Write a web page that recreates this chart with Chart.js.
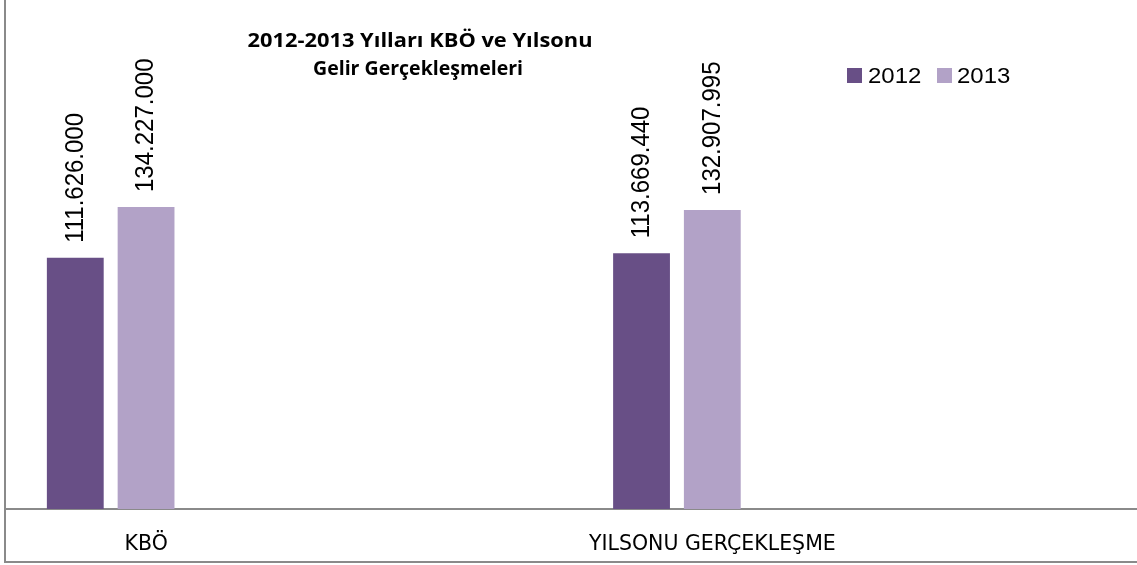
<!DOCTYPE html>
<html>
<head>
<meta charset="utf-8">
<script src="https://cdn.jsdelivr.net/npm/chart.js@4.4.1/dist/chart.umd.min.js"></script>
<style>
html,body{margin:0;padding:0;background:#fff;}
#wrap{width:1137px;height:565px;position:relative;}
</style>
</head>
<body>
<div id="wrap"><canvas id="c" width="1137" height="565"></canvas></div>
<script>
// ---- data ----
const categories = ["KBÖ", "YILSONU GERÇEKLEŞME"];
const seriesNames = ["2012", "2013"];
const values2012 = [111626000, 113669440];
const values2013 = [134227000, 132907995];
const titleLines = ["2012-2013 Yılları KBÖ ve Yılsonu", "Gelir Gerçekleşmeleri"];
const yMin = 0;
const yMax = 200000000;
const seriesColors = ["#684F86", "#B2A2C7"];

function fmt(v) {
  return String(v).replace(/\B(?=(\d{3})+(?!\d))/g, ".");
}

const seriesValues = [values2012, values2013];
const datasets = seriesNames.map((n, i) => ({
  label: n,
  data: seriesValues[i],
  backgroundColor: seriesColors[i],
  borderWidth: 0,
  showLabel: true,
  barPercentage: 57 / 71,
  categoryPercentage: 0.875
}));
// empty placeholder series (the original chart reserves slots for them)
for (let k = 0; k < 5; k++) {
  datasets.push({
    label: "",
    data: categories.map(() => null),
    backgroundColor: "rgba(0,0,0,0)",
    borderWidth: 0,
    showLabel: false,
    barPercentage: 57 / 71,
    categoryPercentage: 0.875
  });
}

const decor = {
  id: "decor",
  beforeDraw(chart) {
    const ctx = chart.ctx;
    ctx.save();
    ctx.fillStyle = "#fff";
    ctx.fillRect(0, 0, chart.width, chart.height);
    ctx.restore();
  },
  afterDraw(chart) {
    const ctx = chart.ctx;
    ctx.save();
    // frame lines
    ctx.strokeStyle = "#8a8a8a";
    ctx.lineWidth = 2;
    ctx.beginPath(); ctx.moveTo(5, 0); ctx.lineTo(5, 563); ctx.stroke();
    ctx.beginPath(); ctx.moveTo(4, 562); ctx.lineTo(chart.width, 562); ctx.stroke();

    // data labels (rotated)
    chart.data.datasets.forEach((ds, i) => {
      if (!ds.showLabel) return;
      const meta = chart.getDatasetMeta(i);
      meta.data.forEach((el, j) => {
        const v = ds.data[j];
        if (v == null) return;
        ctx.save();
        ctx.translate(el.x, el.y - 15);
        ctx.rotate(-Math.PI / 2);
        ctx.scale(1, 1.09);
        ctx.font = '24px "Liberation Sans"';
        ctx.fillStyle = "#000";
        ctx.textAlign = "left";
        ctx.textBaseline = "middle";
        ctx.fillText(fmt(v), 0, 0);
        ctx.restore();
      });
    });

    // title
    ctx.font = 'bold 18.8px "Open Sans"';
    ctx.fillStyle = "#000";
    ctx.textBaseline = "alphabetic";
    ctx.textAlign = "center";
    const centers = [420, 418];
    const widths = [345, 210];
    const bases = [47, 75];
    titleLines.forEach((t, i) => {
      const k = widths[i] / ctx.measureText(t).width;
      ctx.save();
      ctx.translate(centers[i], bases[i]);
      ctx.scale(k, 1);
      ctx.fillText(t, 0, 0);
      ctx.restore();
    });

    // legend
    const sq = [847, 937];
    const tx = [868, 957];
    ctx.textAlign = "left";
    ctx.font = '22px "Liberation Sans"';
    seriesNames.forEach((n, i) => {
      ctx.fillStyle = chart.data.datasets[i].backgroundColor;
      ctx.fillRect(sq[i], 68, 15, 15);
      ctx.fillStyle = "#000";
      ctx.save();
      ctx.translate(tx[i], 82.5);
      ctx.scale(1.09, 1);
      ctx.fillText(n, 0, 0);
      ctx.restore();
    });
    ctx.restore();
  }
};

new Chart(document.getElementById("c"), {
  type: "bar",
  data: { labels: categories, datasets: datasets },
  options: {
    responsive: false,
    animation: false,
    devicePixelRatio: 1,
    layout: { padding: { left: 4.5, right: -3.5, top: 59, bottom: 0 } },
    plugins: {
      legend: { display: false },
      title: { display: false },
      tooltip: { enabled: false }
    },
    scales: {
      x: {
        grid: { display: false, drawTicks: false },
        border: { display: true, color: "#8a8a8a", width: 2 },
        ticks: {
          font: { family: '"DejaVu Sans"', size: 20.5 },
          color: "#000",
          labelOffset: -141.5,
          padding: 23,
          maxRotation: 0,
          autoSkip: false
        },
        afterFit(s) { s.height = 56; }
      },
      y: { display: false, min: yMin, max: yMax }
    }
  },
  plugins: [decor]
});
</script>
</body>
</html>
